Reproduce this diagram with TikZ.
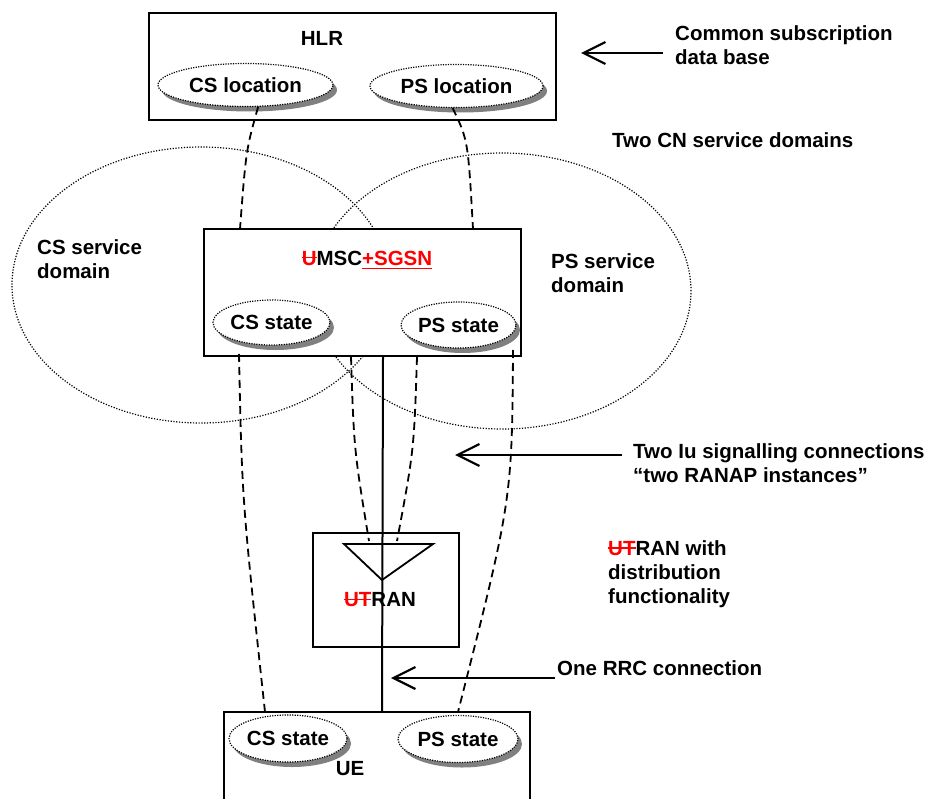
\documentclass[tikz,border=0pt]{standalone}
\usepackage{fontspec}
\setmainfont{Liberation Sans}
\usetikzlibrary{shapes.geometric,shadows,arrows.meta}
\tikzset{
  every node/.style={font=\fontsize{20.5}{24}\selectfont\bfseries},
  box/.style={draw, line width=2pt, fill=white, inner sep=0pt},
  statenode/.style={ellipse, draw, line width=1.2pt, dash pattern=on 1.2pt off 1.3pt,
    fill=white, inner sep=0pt,
    drop shadow={shadow xshift=4pt, shadow yshift=-5pt, fill=gray, opacity=1}},
  domainline/.style={line width=1.2pt, dash pattern=on 1.2pt off 1.6pt},
  link/.style={line width=1.8pt, dash pattern=on 8pt off 5pt},
  pointer/.style={line width=2.2pt, -{Straight Barb[length=22pt,width=22pt]}},
  note/.style={align=left, anchor=west, inner sep=0pt}
}
\newlength\marklen
\newcommand{\redout}[1]{\settowidth{\marklen}{#1}%
  \textcolor{red}{\rlap{#1}\rule[0.33em]{\marklen}{1.4pt}}}
\newcommand{\redin}[1]{\settowidth{\marklen}{#1}%
  \textcolor{red}{\rlap{#1}\rule[-0.2em]{\marklen}{1.6pt}}}
\begin{document}
\begin{tikzpicture}[x=1pt,y=-1pt]
\useasboundingbox (0,0) rectangle (941,799);
% two CN service domains
\draw[domainline] (201,285) ellipse [x radius=189pt, y radius=138pt];
\draw[domainline] (502,291) ellipse [x radius=189pt, y radius=138pt];
% HLR
\node[box, minimum width=407pt, minimum height=107pt] (hlr) at (352.5,66.5) {};
\node (hlrlabel) at (322,38) {HLR};
\node[statenode, minimum width=175pt, minimum height=43pt] (hlrcs) at (245.5,85) {CS location};
\node[statenode, minimum width=173pt, minimum height=43pt] (hlrps) at (456.5,86) {PS location};
% MSC + SGSN
\node[box, minimum width=317pt, minimum height=127pt] (msc) at (362.5,292.5) {};
\node (msclabel) at (367,260) {\redout{U}MSC\redin{+SGSN}};
\node[statenode, minimum width=117pt, minimum height=45pt] (msccs) at (271.5,322.5) {CS state};
\node[statenode, minimum width=115pt, minimum height=46pt] (mscps) at (458.5,325) {PS state};
% UTRAN
\node[box, fill=none, minimum width=146pt, minimum height=114pt] (utran) at (386,590) {};
\node (utranlabel) at (380,600) {\redout{UT}RAN};
% UE
\node[box, minimum width=306pt, minimum height=110pt] (ue) at (377,767) {};
\node[statenode, minimum width=118pt, minimum height=47pt] (uecs) at (288,738.5) {CS state};
\node[statenode, minimum width=120pt, minimum height=47pt] (ueps) at (458,739) {PS state};
\node (uelabel) at (350,769) {UE};
% connection points
\coordinate (cstop) at (240,229);
\coordinate (pstop) at (473,229);
\coordinate (csdown) at (239,354);
\coordinate (iucs) at (351,357);
\coordinate (rrctop) at (383,357);
\coordinate (iups) at (417,357);
\coordinate (psdown) at (513,350);
\coordinate (triL) at (344,544);
\coordinate (triR) at (433,544);
\coordinate (triB) at (382,580);
\coordinate (iucsend) at (369,541);
\coordinate (iupsend) at (397,541);
\coordinate (csue) at (265,712);
\coordinate (rrcue) at (382,712);
\coordinate (psue) at (458,712);
% links
\draw[link] (hlrcs.-60) .. controls (246,150) .. (cstop);
\draw[link] (hlrps.-100) .. controls (468,140) .. (pstop);
\draw[link] (csdown) .. controls (242,500) .. (csue);
\draw[link] (iucs) .. controls (354,450) .. (iucsend);
\draw[link] (iups) .. controls (414,450) .. (iupsend);
\draw[link] (psdown) .. controls (512,500) .. (psue);
\draw[line width=2pt] (rrctop) -- (rrcue);
\draw[line width=1.8pt] (triL) -- (triR) -- (triB) -- cycle;
% notes
\node[note] (common) at (675,45.5) {Common subscription\\data base};
\node[note] (twocn) at (612,140) {Two CN service domains};
\node[note] (csdomain) at (37,259.5) {CS service\\domain};
\node[note] (psdomain) at (551,273) {PS service\\domain};
\node[note] (twoiu) at (633,463.5) {Two Iu signalling connections\\“two RANAP instances”};
\node[note] (utrannote) at (608,574) {\redout{UT}RAN with\\distribution\\functionality};
\node[note] (onerrc) at (557,668) {One RRC connection};
% arrows
\coordinate (hlrtail) at (663,53);
\coordinate (hlrtip) at (581,53);
\coordinate (iutail) at (622,455);
\coordinate (iutip) at (455,455);
\coordinate (rrctail) at (555,678);
\coordinate (rrctip) at (391,678);
\draw[pointer] (hlrtail) -- (hlrtip);
\draw[pointer] (iutail) -- (iutip);
\draw[pointer] (rrctail) -- (rrctip);
\end{tikzpicture}
\end{document}
